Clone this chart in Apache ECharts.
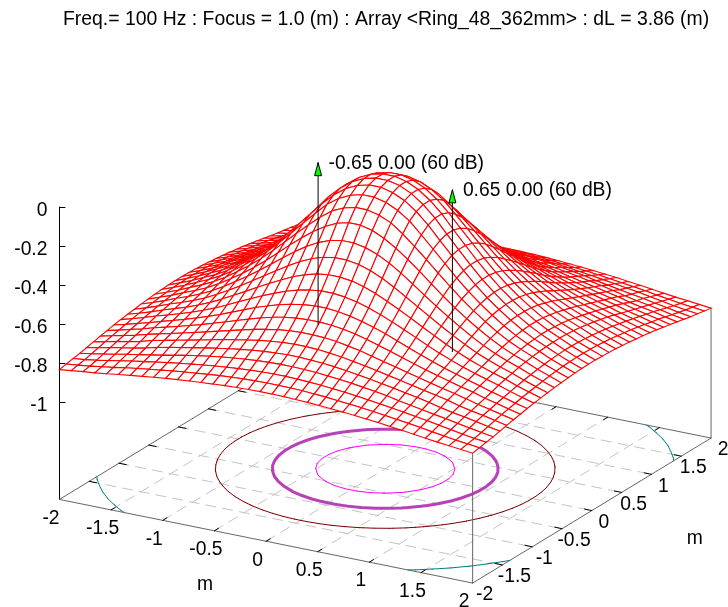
<!DOCTYPE html>
<html><head><meta charset="utf-8">
<style>html,body{margin:0;padding:0;background:#fff}#c{width:728px;height:607px}</style>
<script src="https://cdn.jsdelivr.net/npm/echarts@6/dist/echarts.min.js"></script>
</head><body><div id="c"></div>
<script>
const titleText = 'Freq.= 100 Hz : Focus = 1.0 (m) : Array <Ring_48_362mm> : dL = 3.86 (m)';
const planTicks = [-2,-1.5,-1,-0.5,0,0.5,1,1.5,2];
const gridTicks = [-1.5,-1,-0.5,0,0.5,1,1.5];
const zTicks = [0,-0.2,-0.4,-0.6,-0.8,-1];
const contourLevels = [-0.19,-0.4,-0.6,-0.794];
const focusX = [-0.65,0.65];
const focusLabels = ['-0.65 0.00 (60 dB)','0.65 0.00 (60 dB)'];
const arrowBottom = -0.83;
const zBase = -1.5;
// surface heights: one octant of the 36 x 36 mesh, row = larger of |x|,|y| index
const zOctant = [
[-.005],
[-.019,-.034],
[-.048,-.063,-.092],
[-.092,-.107,-.134,-.179],
[-.149,-.164,-.193,-.231,-.276],
[-.219,-.231,-.254,-.286,-.325,-.369],
[-.286,-.296,-.316,-.343,-.377,-.414,-.452],
[-.352,-.36,-.377,-.399,-.428,-.458,-.49,-.523],
[-.414,-.421,-.434,-.452,-.475,-.5,-.527,-.555,-.584],
[-.469,-.475,-.485,-.5,-.519,-.539,-.563,-.587,-.611,-.633],
[-.519,-.523,-.531,-.543,-.559,-.577,-.596,-.616,-.635,-.654,-.671],
[-.563,-.566,-.573,-.584,-.596,-.611,-.627,-.642,-.658,-.673,-.688,-.703],
[-.602,-.605,-.611,-.619,-.629,-.64,-.652,-.665,-.678,-.691,-.704,-.717,-.73],
[-.635,-.638,-.642,-.648,-.656,-.665,-.675,-.685,-.696,-.708,-.719,-.732,-.747,-.76],
[-.663,-.665,-.668,-.673,-.679,-.686,-.695,-.704,-.714,-.727,-.738,-.749,-.76,-.77,-.782],
[-.691,-.693,-.696,-.7,-.705,-.711,-.718,-.726,-.734,-.743,-.752,-.762,-.771,-.782,-.793,-.804],
[-.716,-.717,-.719,-.723,-.727,-.733,-.739,-.745,-.752,-.76,-.768,-.776,-.785,-.795,-.804,-.813,-.82],
[-.739,-.74,-.742,-.745,-.749,-.753,-.758,-.763,-.769,-.775,-.783,-.79,-.798,-.806,-.814,-.82,-.827,-.834]
];

// fixed gnuplot-style view (rot 70, 30) as seen in the reference
const view = {ox:385.25, oy:468.75, xv:[103.3,20.9], yv:[59.6,-36.25], zs:195};
function project(x,y,z){
  return [view.ox + x*view.xv[0] + y*view.yv[0],
          view.oy + x*view.xv[1] + y*view.yv[1] - (z-zBase)*view.zs];
}
const N = zOctant.length, STEP = 4/(2*N-1);          // mesh index i runs -N..N-1
const coordOf = i => (i+0.5)*STEP;
const rowOf = i => i>=0 ? i : -i-1;
function zAt(i,j){ const a=rowOf(i), b=rowOf(j); return zOctant[Math.max(a,b)][Math.min(a,b)]; }

// mesh cells, painted back to front
const cells = [];
for(let i=-N;i<N-1;i++) for(let j=-N;j<N-1;j++){
  const c = [[i,j],[i+1,j],[i+1,j+1],[i,j+1]];
  const val = [];
  c.forEach(p=>{ const s=project(coordOf(p[0]),coordOf(p[1]),zAt(p[0],p[1])); val.push(s[0],s[1]); });
  cells.push({depth:coordOf(j)*0.866-coordOf(i)*0.5, value:val});
}
cells.sort((a,b)=>b.depth-a.depth);
const cellData = cells.map(c=>c.value);

// contours on the base plane, traced from the surface heights
function contour(level){
  const out=[];
  const cross=(i1,j1,i2,j2)=>{
    const a=zAt(i1,j1)-level,b=zAt(i2,j2)-level;
    if((a<0)===(b<0)) return null;
    const t=a/(a-b);
    return project(coordOf(i1)+(coordOf(i2)-coordOf(i1))*t,coordOf(j1)+(coordOf(j2)-coordOf(j1))*t,zBase);
  };
  for(let i=-N;i<N-1;i++) for(let j=-N;j<N-1;j++){
    const pts=[cross(i,j,i+1,j),cross(i+1,j,i+1,j+1),cross(i+1,j+1,i,j+1),cross(i,j+1,i,j)].filter(Boolean);
    if(pts.length>=2){ out.push(pts[0],pts[1],[NaN,NaN]); }
  }
  return out;
}
function segs(list){ const o=[]; list.forEach(s=>{o.push(s[0],s[1],[NaN,NaN]);}); return o; }

const gridSegs=[];
gridTicks.forEach(t=>{
  gridSegs.push([project(t,-2,zBase),project(t,2,zBase)]);
  gridSegs.push([project(-2,t,zBase),project(2,t,zBase)]);
});
const edgeSegs=[
 [project(-2,-2,zBase),project(2,-2,zBase)],
 [project(2,-2,zBase),project(2,2,zBase)],
 [project(-2,-2,zBase),project(-2,2,zBase)],
 [project(-2,2,zBase),project(2,2,zBase)],
 [project(2,-2,zBase),project(2,-2,zAt(N-1,-N))],
 [project(2,2,zBase),project(2,2,zAt(N-1,N-1))]
];
const tickSegs=[];
const TL=0.07;
gridTicks.forEach(t=>{
  tickSegs.push([project(t,-2,zBase),project(t,-2+TL,zBase)]);
  tickSegs.push([project(t,2,zBase),project(t,2-TL,zBase)]);
  tickSegs.push([project(-2,t,zBase),project(-2+TL,t,zBase)]);
  tickSegs.push([project(2,t,zBase),project(2-TL,t,zBase)]);
});

// texts placed next to the base edges
const labelFont='19.3px "Liberation Sans"';
const textItems=[];
planTicks.forEach(t=>{
  const p=project(t,-2,zBase); textItems.push({pos:[p[0]-8.5,p[1]+19],text:String(t)});
  const q=project(2,t,zBase); textItems.push({pos:[q[0]+12,q[1]+12],text:String(t)});
});
const xm=project(0,-2,zBase), ym=project(2,0,zBase);
textItems.push({pos:[xm[0]-61,xm[1]+43],text:'m'});
textItems.push({pos:[ym[0]+103,ym[1]+28],text:'m'});

function lineSeries(name,data,color,width,z,dash){
  return {name,type:'line',xAxisIndex:0,yAxisIndex:0,data,showSymbol:false,symbol:'none',silent:true,
    animation:false,z,lineStyle:{color,width,type:dash||'solid',cap:'round'},connectNulls:false,clip:false};
}
const contourColors=['#ff00ff','#b840b8','#800000','#008080'];
const contourWidths=[1,3,1,1];

const series=[
  lineSeries('grid',segs(gridSegs),'#c4c4c4',1,1,[10,7]),
  ...contourLevels.map((lv,k)=>lineSeries('contour '+lv,contour(lv),contourColors[k],contourWidths[k],2)),
  lineSeries('border',segs(edgeSegs),'#666666',1,3),
  lineSeries('ticks',segs(tickSegs),'#000000',1,3),
  {name:'surface',type:'custom',xAxisIndex:0,yAxisIndex:0,z:4,silent:true,animation:false,clip:false,progressive:0,
    encode:{x:[0,2,4,6],y:[1,3,5,7]},data:cellData,
    renderItem(params,api){
      const pts=[0,2,4,6].map(k=>api.coord([api.value(k),api.value(k+1)]));
      return {type:'polygon',shape:{points:pts},style:{fill:'#fff',stroke:'#ff0000',lineWidth:1.1}};
    }},
  ...focusX.map((x,k)=>lineSeries('arrow '+k,[project(x,0,arrowBottom),project(x,0,0)],'#000000',1,5)),
  {name:'arrow heads',type:'custom',xAxisIndex:0,yAxisIndex:0,z:6,silent:true,animation:false,clip:false,
    encode:{x:0,y:1},data:focusX.map(x=>project(x,0,0)),
    renderItem(params,api){
      const c=api.coord([api.value(0),api.value(1)]);
      return {type:'polygon',shape:{points:[[c[0],c[1]],[c[0]+3.5,c[1]+13],[c[0]-3.5,c[1]+13]]},
        style:{fill:'#00ff00',stroke:'#000',lineWidth:1}};
    }},
  {name:'focus labels',type:'custom',xAxisIndex:0,yAxisIndex:0,z:7,silent:true,animation:false,clip:false,
    encode:{x:0,y:1},data:focusX.map(x=>project(x,0,0)),
    renderItem(params,api){
      const c=api.coord([api.value(0),api.value(1)]);
      return {type:'text',x:c[0]+10.5,y:c[1]+1,style:{text:focusLabels[params.dataIndex],font:labelFont,fill:'#000',textAlign:'left',textVerticalAlign:'middle'}};
    }},
  {name:'axis labels',type:'custom',xAxisIndex:0,yAxisIndex:0,z:7,silent:true,animation:false,clip:false,
    encode:{x:0,y:1},data:textItems.map(t=>t.pos),
    renderItem(params,api){
      const c=api.coord([api.value(0),api.value(1)]);
      return {type:'text',x:c[0],y:c[1],style:{text:textItems[params.dataIndex].text,font:labelFont,fill:'#000',textAlign:'center',textVerticalAlign:'middle'}};
    }}
];

const zTop=project(-2,-2,0)[1], zBot=project(-2,-2,zBase)[1], zLeft=project(-2,-2,0)[0];
const chart=echarts.init(document.getElementById('c'),null,{renderer:'canvas'});
chart.setOption({
  animation:false,backgroundColor:'#fff',
  title:{text:titleText,left:63,top:10,padding:0,textStyle:{fontFamily:'Liberation Sans',fontWeight:'normal',fontSize:19.4,color:'#000'}},
  grid:[{left:0,right:0,top:0,bottom:0},{left:zLeft,top:zTop,width:1,height:zBot-zTop}],
  xAxis:[{type:'value',min:0,max:728,show:false,gridIndex:0},{type:'value',min:0,max:1,show:false,gridIndex:1}],
  yAxis:[{type:'value',min:0,max:607,inverse:true,show:false,gridIndex:0},
    {type:'value',gridIndex:1,min:zBase,max:0,splitLine:{show:false},
     axisLine:{show:true,onZero:false,lineStyle:{color:'#000',width:1}},
     axisTick:{show:true,inside:true,length:6,lineStyle:{color:'#000'},customValues:zTicks},
     axisLabel:{show:true,margin:12,color:'#000',fontFamily:'Liberation Sans',fontSize:19.3,verticalAlign:'top',lineHeight:7,customValues:zTicks,formatter:v=>String(v)}}],
  series
});
</script></body></html>
